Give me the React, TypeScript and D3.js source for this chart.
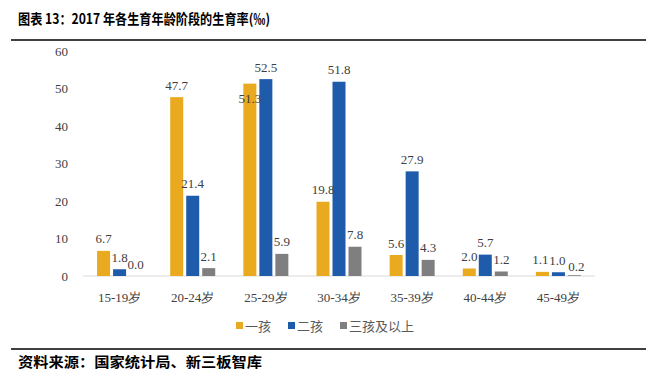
import React from "react";
import * as d3 from "d3";

const categories = ["15-19岁", "20-24岁", "25-29岁", "30-34岁", "35-39岁", "40-44岁", "45-49岁"];
const seriesNames = ["一孩", "二孩", "三孩及以上"];
const firstChild = [6.7, 47.7, 51.3, 19.8, 5.6, 2.0, 1.1];
const secondChild = [1.8, 21.4, 52.5, 51.8, 27.9, 5.7, 1.0];
const thirdPlus = [0.0, 2.1, 5.9, 7.8, 4.3, 1.2, 0.2];
const yTicks = [0, 10, 20, 30, 40, 50, 60];

const seriesValues = [firstChild, secondChild, thirdPlus];
const colors = ["#EAAA1F", "#1E5BAA", "#7F7F7F"];

// label nudges (dx, dy) to mimic the reference's overlap handling
const labelNudge: Record<string, [number, number]> = {
  "0-2": [0, 27],
  "0-6": [-2, 0],
  "1-6": [-1, 0],
  "2-6": [2, 3],
};

const W = 655;
const H = 376;

export default function App() {
  const x = d3.scaleBand<string>().domain(categories).range([83, 595]).paddingInner(0);
  const y = d3.scaleLinear().domain([0, 60]).range([276, 51]);
  const barW = 13;
  const offsets = [-16, 0, 16];
  const serif = "'Liberation Serif', 'Times New Roman', serif";
  const cjk = "'Noto Sans CJK SC', 'Noto Sans', sans-serif";

  return (
    <svg width={W} height={H} style={{ position: "absolute", left: 0, top: 0, background: "#fff" }}>
      <rect x={0} y={0} width={W} height={H} fill="#fff" />
      <text
        x={18}
        y={24}
        fontFamily={cjk}
        fontWeight="bold"
        fontSize={14}
        fill="#000"
        textLength={252}
        lengthAdjust="spacingAndGlyphs"
      >
        图表 13：2017 年各生育年龄阶段的生育率(‰)
      </text>
      <line x1={11} x2={646} y1={40} y2={40} stroke="#000" strokeWidth={1.3} />

      {yTicks.map((t) => (
        <text
          key={t}
          x={68}
          y={y(t)}
          dy="0.35em"
          textAnchor="end"
          fontFamily={serif}
          fontSize={13}
          fill="#404040"
        >
          {t}
        </text>
      ))}

      <line x1={83} x2={595} y1={y(0)} y2={y(0)} stroke="#D9D9D9" strokeWidth={1} />

      {seriesValues.map((vals, s) =>
        vals.map((v, i) => {
          const cx = (x(categories[i]) as number) + x.bandwidth() / 2 + offsets[s];
          return (
            <rect
              key={`b-${s}-${i}`}
              x={cx - barW / 2}
              y={y(v)}
              width={barW}
              height={y(0) - y(v)}
              fill={colors[s]}
            />
          );
        })
      )}

      {seriesValues.map((vals, s) =>
        vals.map((v, i) => {
          const cx = (x(categories[i]) as number) + x.bandwidth() / 2 + offsets[s];
          const n = labelNudge[`${s}-${i}`] || [0, 0];
          return (
            <text
              key={`l-${s}-${i}`}
              x={cx + n[0]}
              y={y(v) - 12 + n[1]}
              dy="0.35em"
              textAnchor="middle"
              fontFamily={serif}
              fontSize={13}
              fill="#404040"
            >
              {v.toFixed(1)}
            </text>
          );
        })
      )}

      {categories.map((c) => (
        <text
          key={c}
          x={(x(c) as number) + x.bandwidth() / 2}
          y={297}
          dy="0.35em"
          textAnchor="middle"
          fontFamily={serif}
          fontSize={13}
          fill="#404040"
        >
          {c}
        </text>
      ))}

      {seriesNames.map((name, s) => {
        const lx = [236, 288, 340][s];
        return (
          <g key={name}>
            <rect x={lx} y={322} width={7} height={7} fill={colors[s]} />
            <text x={lx + 9} y={326} dy="0.35em" fontFamily={cjk} fontSize={13} fill="#595959">
              {name}
            </text>
          </g>
        );
      })}

      <line x1={11} x2={646} y1={349} y2={349} stroke="#000" strokeWidth={1.3} />
      <text
        x={18}
        y={362}
        dy="0.35em"
        fontFamily={cjk}
        fontWeight="bold"
        fontSize={14}
        fill="#000"
        textLength={244}
        lengthAdjust="spacingAndGlyphs"
      >
        资料来源：国家统计局、新三板智库
      </text>
    </svg>
  );
}
